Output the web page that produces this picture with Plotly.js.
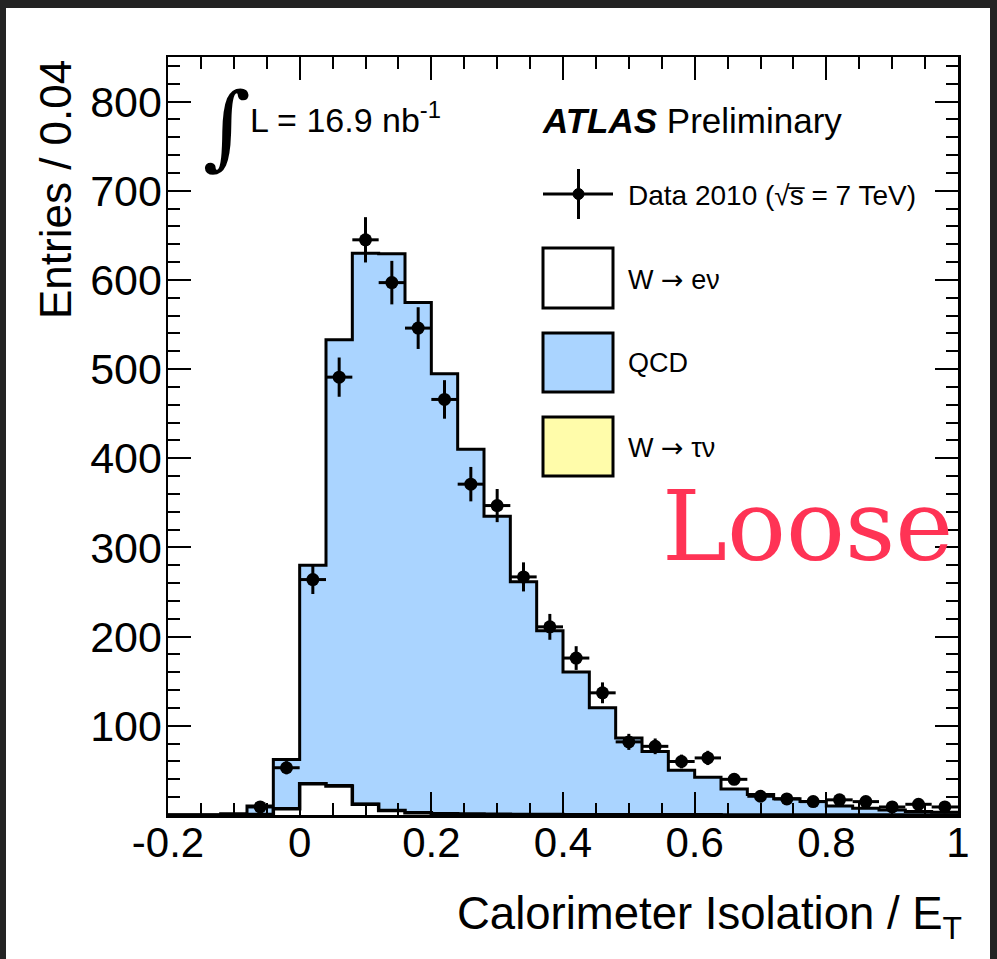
<!DOCTYPE html>
<html>
<head>
<meta charset="utf-8">
<script src="https://cdn.plot.ly/plotly-3.0.1.min.js"></script>
<style>
html,body{margin:0;padding:0;background:#232323;}
#chart{width:997px;height:959px;}
</style>
</head>
<body>
<div id="chart"></div>
<script>
// ---- data ----
const binEdges = [-0.2,-0.16,-0.12,-0.08,-0.04,0,0.04,0.08,0.12,0.16,0.2,0.24,0.28,0.32,0.36,0.4,0.44,0.48,0.52,0.56,0.6,0.64,0.68,0.72,0.76,0.8,0.84,0.88,0.92,0.96,1.0];
const qcd    = [0,0,1.5,9.5,55,244,499,617,624,572,493,409,334,261,206,160,120,86,71,50,42,29,23,18,15,10,7.4,5.5,4,3];
const wenu   = [0,0,0,0.5,7,35,32.5,12,5,2.5,1.5,1,0.8,0.6,0.5,0.4,0.3,0.3,0.2,0.2,0.2,0.1,0.1,0.1,0.1,0.1,0.1,0,0,0];
const wtaunu = [0,0,0,0,0.2,1,1.5,1,0.5,0.3,0.2,0.1,0.1,0,0,0,0,0,0,0,0,0,0,0,0,0,0,0,0,0];

const dataX   = [-0.06,-0.02,0.02,0.06,0.10,0.14,0.18,0.22,0.26,0.30,0.34,0.38,0.42,0.46,0.50,0.54,0.58,0.62,0.66,0.70,0.74,0.78,0.82,0.86,0.90,0.94,0.98];
const dataY   = [9,53,264,491,645,597,546,466,371,347,267,211,176,137,82,77,60,64,40,21,18,15,17,15,9,12,9];
const dataErr = [3,7.3,16.2,22,25.4,24.4,23.4,21.6,19.3,18.6,16.3,14.5,13.3,11.7,9,8.8,7.7,8,6.3,4.6,4.2,3.9,4.1,3.9,3,3.5,3];

const xTickVals = [-0.2,0,0.2,0.4,0.6,0.8,1.0];
const xTickText = ['-0.2','0','0.2','0.4','0.6','0.8','1'];
const yTickVals = [100,200,300,400,500,600,700,800];

// ---- stacking ----
const stackLow = wenu;
const stackMid = wenu.map((v,i)=>v+wtaunu[i]);
const stackTop = stackMid.map((v,i)=>v+qcd[i]);
const stepY = a => a.concat([a[a.length-1]]);

const FONT = 'Liberation Sans, Arial, Helvetica, sans-serif';
const BLUE = '#aad4ff', YELLOW = '#fffcaa';

const traces = [
  {x: binEdges, y: stepY(stackTop), type:'scatter', mode:'lines', line:{shape:'hv', color:'black', width:3},
   fill:'tozeroy', fillcolor: BLUE, hoverinfo:'skip', showlegend:false},
  {x: binEdges, y: stepY(stackMid), type:'scatter', mode:'lines', line:{shape:'hv', color:'black', width:1.5},
   fill:'tozeroy', fillcolor: YELLOW, hoverinfo:'skip', showlegend:false},
  {x: binEdges, y: stepY(stackLow), type:'scatter', mode:'lines', line:{shape:'hv', color:'black', width:3.5},
   fill:'tozeroy', fillcolor: '#ffffff', hoverinfo:'skip', showlegend:false},
  {x: dataX, y: dataY, type:'scatter', mode:'markers',
   marker:{color:'black', size:13},
   error_y:{type:'data', array:dataErr, visible:true, color:'black', thickness:3, width:0},
   error_x:{type:'constant', value:0.02, visible:true, color:'black', thickness:3, width:0},
   showlegend:false}
];

// pixel -> paper helpers (plot area 168..958 x 57..815)
const L=168, R=958, T=57, B=815;
const px = v => (v-L)/(R-L);
const py = v => (B-v)/(B-T);

const shapes = [
  {type:'rect', xref:'paper', yref:'paper', x0:px(6), x1:px(990), y0:py(8), y1:py(959+5),
   fillcolor:'#ffffff', line:{width:0}, layer:'below'},
  {type:'line', xref:'paper', yref:'paper', x0:px(543), x1:px(613), y0:py(194), y1:py(194), line:{color:'black', width:3}},
  {type:'line', xref:'paper', yref:'paper', x0:px(578.5), x1:px(578.5), y0:py(169), y1:py(219), line:{color:'black', width:3}},
  {type:'circle', xref:'paper', yref:'paper', x0:px(573), x1:px(584), y0:py(188.5), y1:py(199.5), fillcolor:'black', line:{color:'black', width:1}},
  {type:'rect', xref:'paper', yref:'paper', x0:px(543), x1:px(613), y0:py(248), y1:py(308), fillcolor:'#ffffff', line:{color:'black', width:3}},
  {type:'rect', xref:'paper', yref:'paper', x0:px(543), x1:px(613), y0:py(333), y1:py(392), fillcolor:BLUE, line:{color:'black', width:3}},
  {type:'rect', xref:'paper', yref:'paper', x0:px(543), x1:px(613), y0:py(417), y1:py(476), fillcolor:YELLOW, line:{color:'black', width:3}}
];

const ann = (text, x, y, size, opts) => Object.assign({
  text: text, xref:'paper', yref:'paper', x: px(x), y: py(y), showarrow:false,
  xanchor:'left', yanchor:'middle', font:{family:FONT, size:size, color:'black'}
}, opts||{});

const ARROW = '<span style="font-family:DejaVu Sans">→</span>';

const annotations = [
  ann('Data 2010 (√s̅ = 7 TeV)', 626, 195, 28),
  ann('W ' + ARROW + ' eν', 626, 279, 27),
  ann('QCD', 626, 363, 27),
  ann('W ' + ARROW + ' τν', 626, 447, 27),
  ann('∫', 227, 126, 92, {xanchor:'center', font:{family:'DejaVu Serif, Liberation Serif, serif', size:92, color:'black'}}),
  ann('L = 16.9 nb<sup>-1</sup>', 248, 118, 34),
  ann('<b><i>ATLAS</i></b> Preliminary', 540, 121, 35),
  ann('Loose', 807, 526, 98, {xanchor:'center', font:{family:'DejaVu Serif, Liberation Serif, serif', size:98, color:'#ff3355'}}),
  ann('Entries / 0.04', 55, 189, 44, {xanchor:'center', textangle:-90}),
  ann('Calorimeter Isolation / E<sub>T</sub>', 964, 917, 45.5, {xanchor:'right'})
];

const axisCommon = {
  showline:true, linecolor:'black', linewidth:2.5, mirror:'ticks',
  ticks:'inside', ticklen:23, tickwidth:2, tickcolor:'black',
  showgrid:false, zeroline:false
};

const layout = {
  width:997, height:959,
  margin:{l:L, r:997-R, t:T, b:959-B, pad:0},
  paper_bgcolor:'#232323', plot_bgcolor:'#ffffff',
  showlegend:false,
  xaxis: Object.assign({}, axisCommon, {
    range:[-0.2,1.0], tickmode:'array', tickvals:xTickVals, ticktext:xTickText,
    tickfont:{family:FONT, size:42, color:'black'}, ticklabelstandoff:-11,
    minor:{tickmode:'linear', tick0:0, dtick:0.05, ticks:'inside', ticklen:12, tickwidth:2, tickcolor:'black', showgrid:false}
  }),
  yaxis: Object.assign({}, axisCommon, {
    range:[0,850], tickmode:'array', tickvals:yTickVals,
    tickfont:{family:FONT, size:43, color:'black'}, ticklabelstandoff:-5,
    minor:{tickmode:'linear', tick0:0, dtick:20, ticks:'inside', ticklen:12, tickwidth:2, tickcolor:'black', showgrid:false}
  }),
  shapes: shapes,
  annotations: annotations
};

Plotly.newPlot('chart', traces, layout, {staticPlot:true});
</script>
</body>
</html>
